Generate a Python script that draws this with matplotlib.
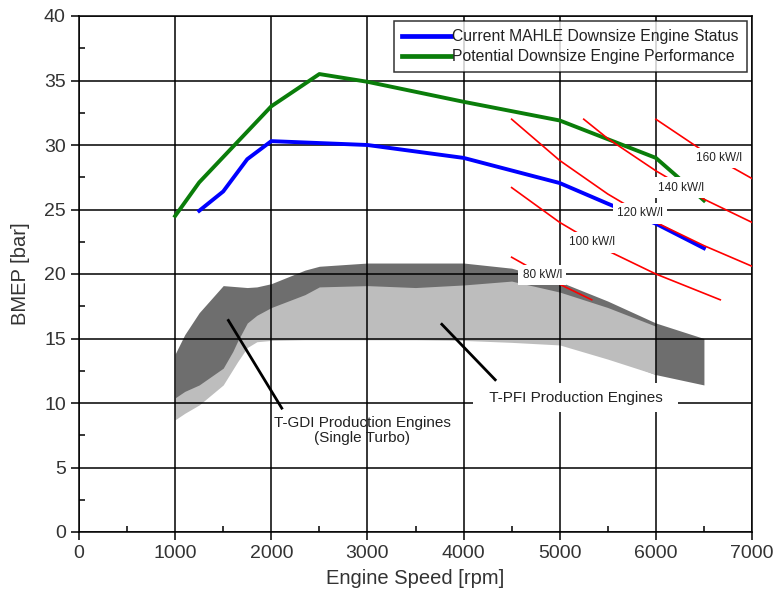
import matplotlib
matplotlib.use("Agg")
import matplotlib.pyplot as plt
from matplotlib.ticker import MultipleLocator

plt.rcParams['font.family'] = ['Liberation Sans', 'DejaVu Sans']

# ---- data ----
blue_rpm = [1250, 1500, 1750, 2000, 3000, 4000, 5000, 5500, 6000, 6500]
blue_bmep = [24.9, 26.4, 28.9, 30.3, 30.0, 29.0, 27.05, 25.45, 23.9, 22.0]

green_rpm = [1000, 1250, 2000, 2500, 3000, 4000, 5000, 6000, 6200, 6500]
green_bmep = [24.5, 27.1, 33.0, 35.5, 34.9, 33.35, 31.9, 29.0, 27.7, 25.7]

legend_labels = ["Current MAHLE Downsize Engine Status",
                 "Potential Downsize Engine Performance"]

# dark band (T-GDI)
dark_rpm = [1000, 1100, 1250, 1500, 1750, 1850, 2000, 2350, 2500, 3000, 4000, 4500, 5000, 5500, 6000, 6500]
dark_upper = [13.8, 15.3, 17.0, 19.1, 18.95, 19.0, 19.25, 20.3, 20.6, 20.85, 20.85, 20.45, 19.4, 17.9, 16.2, 15.0]
dark_lower = [9.0, 9.5, 10.15, 11.7, 14.6, 15.0, 15.1, 15.1, 15.1, 15.1, 15.05, 14.9, 14.7, 13.6, 12.2, 11.4]

# light band (T-PFI)
light_rpm = [1000, 1100, 1250, 1500, 1600, 1650, 1750, 1850, 2000, 2350, 2500, 3000, 3500, 4000, 4500, 5000, 5500, 6000]
light_upper = [10.4, 10.9, 11.4, 12.7, 14.0, 14.8, 16.2, 16.8, 17.4, 18.4, 19.0, 19.1, 18.95, 19.15, 19.45, 18.6, 17.4, 15.95]
light_lower = [8.7, 9.2, 9.85, 11.4, 12.6, 13.2, 14.3, 14.75, 14.85, 14.9, 14.9, 14.9, 14.9, 14.85, 14.7, 14.5, 13.4, 12.2]

# constant specific power lines (kW/l)
power_labels = ["80 kW/l", "100 kW/l", "120 kW/l", "140 kW/l", "160 kW/l"]
power_rpm = [
    [4500, 5000, 5333],
    [4500, 5000, 5500, 6000, 6670],
    [4500, 5000, 5500, 6000, 6500, 7000],
    [5250, 5500, 6000, 6500, 7000],
    [6000, 6500, 7000],
]
power_bmep = [
    [21.3, 19.2, 18.0],
    [26.7, 24.0, 21.8, 20.0, 18.0],
    [32.0, 28.8, 26.2, 24.0, 22.2, 20.6],
    [32.0, 30.5, 28.0, 25.8, 24.0],
    [32.0, 29.5, 27.4],
]
power_label_rpm = [4818, 5338, 5838, 6264, 6660]
power_label_bmep = [19.9, 22.45, 24.7, 26.7, 29.0]

tgdi_text = "T-GDI Production Engines\n(Single Turbo)"
tgdi_text_pos = (2945, 7.85)
tgdi_pointer = ([1554, 2109], [16.4, 9.6])
tpfi_text = "  T-PFI Production Engines  "
tpfi_text_pos = (5166, 10.4)
tpfi_pointer = ([3774, 4329], [16.1, 11.8])

# ---- figure ----
fig = plt.figure(figsize=(7.76, 5.94), dpi=100)
ax = fig.add_axes([79 / 776, 1 - 532 / 594, (752 - 79) / 776, (532 - 16) / 594])

ax.fill_between(dark_rpm, dark_lower, dark_upper, color='#6e6e6e', lw=0, zorder=1)
ax.fill_between(light_rpm, light_lower, light_upper, color='#bdbdbd', lw=0, zorder=1.2)

ax.set_axisbelow(False)
ax.grid(True, which='major', color='black', lw=1.1)

ax.plot(blue_rpm, blue_bmep, color='#0000ff', lw=2.8, zorder=3, label=legend_labels[0],
        solid_joinstyle='round')
ax.plot(green_rpm, green_bmep, color='#0a7d0a', lw=2.8, zorder=3, label=legend_labels[1],
        solid_joinstyle='round')

for rpm, bm in zip(power_rpm, power_bmep):
    ax.plot(rpm, bm, color='#ff0000', lw=1.2, zorder=3.5)
for lab, xr, yb in zip(power_labels, power_label_rpm, power_label_bmep):
    ax.text(xr, yb, lab, fontsize=8.5, ha='center', va='center', color='#222222', zorder=6,
            bbox=dict(boxstyle='square,pad=0.35', fc='white', ec='none'))

ax.plot(*tgdi_pointer, color='black', lw=2, zorder=4)
ax.plot(*tpfi_pointer, color='black', lw=2, zorder=4)
ax.text(*tgdi_text_pos, tgdi_text, fontsize=11, ha='center', va='center', color='#222222',
        zorder=6, linespacing=1.05)
ax.text(*tpfi_text_pos, tpfi_text, fontsize=11, ha='center', va='center', color='#222222',
        zorder=6, bbox=dict(boxstyle='square,pad=0.5', fc='white', ec='none'))

ax.set_xlim(0, 7000)
ax.set_ylim(0, 40)
ax.xaxis.set_major_locator(MultipleLocator(1000))
ax.xaxis.set_minor_locator(MultipleLocator(500))
ax.yaxis.set_major_locator(MultipleLocator(5))
ax.yaxis.set_minor_locator(MultipleLocator(2.5))
ax.tick_params(which='major', direction='out', length=6, width=1.1, labelsize=14,
               colors='black', labelcolor='#333333')
ax.tick_params(which='minor', direction='in', length=4, width=1.1)
for s in ax.spines.values():
    s.set_linewidth(1.1)

ax.set_xlabel("Engine Speed [rpm]", fontsize=14.5, color='#333333', labelpad=5)
ax.set_ylabel("BMEP [bar]", fontsize=14.5, color='#333333', labelpad=10)

leg = ax.legend(loc='upper right', fontsize=11.3, frameon=True, fancybox=False,
                handlelength=3.1, handletextpad=0.1, borderpad=0.5, labelspacing=0.32,
                borderaxespad=0.35)
leg.get_frame().set_edgecolor('black')
leg.get_frame().set_linewidth(1.1)
leg.set_zorder(7)
for t in leg.get_texts():
    t.set_color('#222222')
for h in leg.get_lines():
    h.set_linewidth(3.4)

fig.savefig("out.png", dpi=100)
